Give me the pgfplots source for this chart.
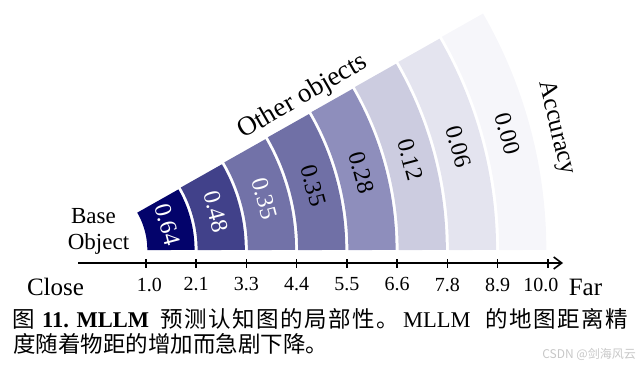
\documentclass[border=0pt]{standalone}
\usepackage{fontspec}
\setmainfont{Liberation Serif}
\newfontfamily\cjk{Noto Sans CJK SC}
\usepackage{pgfplots}
\pgfplotsset{compat=1.18}
\usetikzlibrary{arrows.meta}
\definecolor{c1}{RGB}{3,3,107}
\definecolor{c2}{RGB}{65,65,138}
\definecolor{c3}{RGB}{114,114,168}
\definecolor{c4}{RGB}{112,112,166}
\definecolor{c5}{RGB}{142,142,188}
\definecolor{c6}{RGB}{204,204,224}
\definecolor{c7}{RGB}{228,228,239}
\definecolor{c8}{RGB}{246,246,250}
\newcommand{\cjkspread}[1]{\cjkspreadi#1\relax}
\def\cjkspreadi#1{\ifx#1\relax\else#1\kern1.5pt\expandafter\cjkspreadi\fi}
% ring: #1 mid radius (distance + 0.63), #2 colour, #3 accuracy, #4 text colour
\newcommand{\ring}[4]{%
  \addplot[draw=#2, line width=47.25pt, domain=0:30, samples=61, variable=\t]
    ({-0.63+#1*cos(\t)}, {#1*sin(\t)});
  \node[rotate=-75, text=#4, font=\fontsize{24}{28}\selectfont, inner sep=0pt]
    at ([shift={(15:{#1*44.67pt})}]axis cs:-0.63,0) {#3};
}
\begin{document}
\begin{tikzpicture}
\begin{axis}[
  x=44.67pt, y=44.67pt,
  xmin=-0.516, xmax=10.34,
  ymin=-0.291, ymax=5.4,
  axis x line=bottom, axis y line=none,
  x axis line style={line width=1.6pt, -{Straight Barb[length=8pt,width=12pt]}},
  xtick={1,2.125,3.25,4.375,5.5,6.625,7.75,8.875,10},
  xticklabels={\hspace*{7pt}1.0,2.1,3.3,4.4,5.5,6.6,7.8,8.9,10.0\hspace*{14pt}},
  /pgf/number format/assume math mode=true,
  tick align=center, major tick length=9pt,
  tick style={line width=1.6pt, black},
  xticklabel style={font=\fontsize{20}{24}\selectfont, inner sep=0pt, yshift=-10pt},
  clip=false,
]
\coordinate (O) at (axis cs:-0.63,0);
\ring{2.1925}{c1}{0.64}{white}
\ring{3.3175}{c2}{0.48}{white}
\ring{4.4425}{c3}{0.35}{white}
\ring{5.5675}{c4}{0.35}{black}
\ring{6.6925}{c5}{0.28}{black}
\ring{7.8175}{c6}{0.12}{black}
\ring{8.9425}{c7}{0.06}{black}
\ring{10.0675}{c8}{0.00}{black}
\end{axis}
% labels
\node[anchor=base, font=\fontsize{25}{30}\selectfont] at ([shift={(-17.5pt,-45pt)}]O) {Close};
\node[anchor=base, font=\fontsize{25}{30}\selectfont] at ([shift={(512.5pt,-45pt)}]O) {Far};
\node[anchor=base, font=\fontsize{23}{28}\selectfont] at ([shift={(20.5pt,27pt)}]O) {Base};
\node[anchor=base, font=\fontsize{23}{28}\selectfont] at ([shift={(25.5pt,1pt)}]O) {Object};
\node[rotate=30, font=\fontsize{27}{32}\selectfont] at ([shift={(230pt,153pt)}]O) {Other objects};
\node[rotate=-76, font=\fontsize{25}{30}\selectfont] at ([shift={(483pt,122pt)}]O) {Accuracy};
% caption
\node[anchor=base west, inner sep=0pt, font=\fontsize{22.5}{27}\selectfont\cjk] at ([shift={(-61pt,-77pt)}]O) {图};
\node[anchor=base west, inner sep=0pt, font=\fontsize{22.5}{27}\selectfont\bfseries] at ([shift={(-31pt,-77pt)}]O) {11. MLLM};
\node[anchor=base west, inner sep=0pt, font=\fontsize{22.5}{27}\selectfont\cjk] at ([shift={(87pt,-77pt)}]O) {\cjkspread{预测认知图的局部性}};
\node[anchor=base west, inner sep=0pt, font=\fontsize{22.5}{27}\selectfont\cjk] at ([shift={(303pt,-77pt)}]O) {。};
\node[anchor=base west, inner sep=0pt, font=\fontsize{22.5}{27}\selectfont] at ([shift={(330pt,-77pt)}]O) {MLLM};
\node[anchor=base west, inner sep=0pt, font=\fontsize{22.5}{27}\selectfont\cjk] at ([shift={(412pt,-77pt)}]O) {\cjkspread{的地图距离精}};
\node[anchor=base west, inner sep=0pt, font=\fontsize{22.5}{27}\selectfont\cjk] at ([shift={(-60pt,-102pt)}]O) {度随着物距的增加而急剧下降。};
\node[anchor=base east, inner sep=0pt, text=black!22, font=\fontsize{12}{14}\selectfont\cjk] at ([shift={(563pt,-108pt)}]O) {CSDN @剑海风云};
\pgfresetboundingbox
\path[use as bounding box] (O) ++(-73pt,-115pt) rectangle ++(641pt,365pt);
\end{tikzpicture}
\end{document}
